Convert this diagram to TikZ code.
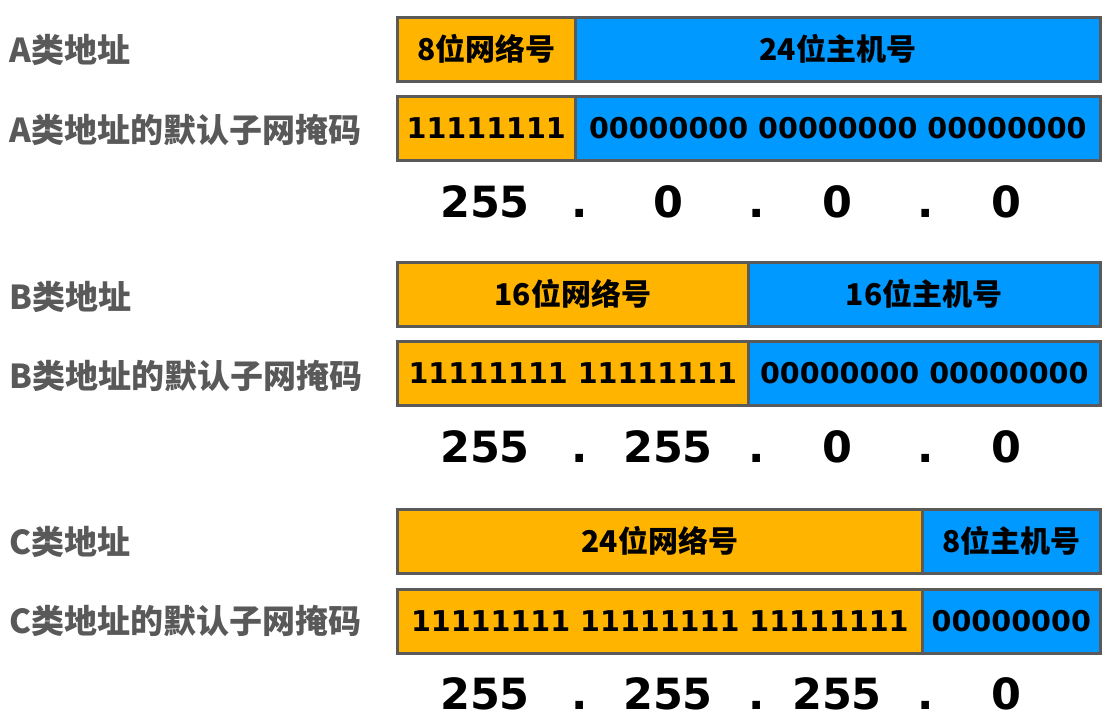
\documentclass[tikz,border=0pt]{standalone}
\usepackage{fontspec}
\setmainfont{DejaVu Sans}
\newfontfamily\cjk{Noto Sans CJK SC}
\usetikzlibrary{positioning}

\definecolor{netorange}{HTML}{FFB400}
\definecolor{hostblue}{HTML}{0099FF}
\definecolor{framegray}{HTML}{5A5A5A}
\definecolor{labelgray}{HTML}{595959}

\tikzset{
  part/.style={draw=framegray, line width=3pt, inner sep=0pt, outer sep=0pt,
    minimum height=64pt, anchor=north west},
  netpart/.style={part, fill=netorange},
  hostpart/.style={part, fill=hostblue},
  fieldtext/.style={font=\cjk\bfseries\fontsize{30}{30}\selectfont},
  bittext/.style={font=\bfseries\fontsize{28.6}{28.6}\selectfont},
  rowlabel/.style={anchor=west, text=labelgray, font=\cjk\bfseries\fontsize{33}{33}\selectfont},
  octet/.style={anchor=base, font=\bfseries\fontsize{43}{43}\selectfont}
}

\begin{document}
\begin{tikzpicture}[x=1pt, y=-1pt]
  \useasboundingbox (0,0) rectangle (1107,718);

  % Class A
  \node[rowlabel] (alabel) at (6,50) {A类地址};
  \node[netpart, fieldtext, minimum width=177.5pt] (anet) at (397.5,17) {8位网络号};
  \node[hostpart, fieldtext, minimum width=525.5pt, right=0pt of anet] (ahost) {24位主机号};

  \node[rowlabel] (amasklabel) at (6,130) {A类地址的默认子网掩码};
  \node[netpart, bittext, minimum width=177.5pt] (amasknet) at (397.5,96) {11111111};
  \node[hostpart, bittext, minimum width=525.5pt, right=0pt of amasknet] (amaskhost) {00000000 00000000 00000000};

  \node[octet] (a1) at (485,217) {255};
  \node[octet] (adot1) at (580,217) {.};
  \node[octet] (a2) at (668,217) {0};
  \node[octet] (adot2) at (757,217) {.};
  \node[octet] (a3) at (837,217) {0};
  \node[octet] (adot3) at (926,217) {.};
  \node[octet] (a4) at (1006,217) {0};

  % Class B
  \node[rowlabel] (blabel) at (6,297) {B类地址};
  \node[netpart, fieldtext, minimum width=350.5pt] (bnet) at (397.5,262) {16位网络号};
  \node[hostpart, fieldtext, minimum width=352.5pt, right=0pt of bnet] (bhost) {16位主机号};

  \node[rowlabel] (bmasklabel) at (6,376) {B类地址的默认子网掩码};
  \node[netpart, bittext, minimum width=350.5pt] (bmasknet) at (397.5,341) {11111111 11111111};
  \node[hostpart, bittext, minimum width=352.5pt, right=0pt of bmasknet] (bmaskhost) {00000000 00000000};

  \node[octet] (b1) at (485,462) {255};
  \node[octet] (bdot1) at (580,462) {.};
  \node[octet] (b2) at (668,462) {255};
  \node[octet] (bdot2) at (757,462) {.};
  \node[octet] (b3) at (837,462) {0};
  \node[octet] (bdot3) at (926,462) {.};
  \node[octet] (b4) at (1006,462) {0};

  % Class C
  \node[rowlabel] (clabel) at (6,542) {C类地址};
  \node[netpart, fieldtext, minimum width=524.5pt] (cnet) at (397.5,509) {24位网络号};
  \node[hostpart, fieldtext, minimum width=178.5pt, right=0pt of cnet] (chost) {8位主机号};

  \node[rowlabel] (cmasklabel) at (6,621) {C类地址的默认子网掩码};
  \node[netpart, bittext, minimum width=524.5pt] (cmasknet) at (397.5,589) {11111111 11111111 11111111};
  \node[hostpart, bittext, minimum width=178.5pt, right=0pt of cmasknet] (cmaskhost) {00000000};

  \node[octet] (c1) at (485,709) {255};
  \node[octet] (cdot1) at (580,709) {.};
  \node[octet] (c2) at (668,709) {255};
  \node[octet] (cdot2) at (757,709) {.};
  \node[octet] (c3) at (837,709) {255};
  \node[octet] (cdot3) at (926,709) {.};
  \node[octet] (c4) at (1006,709) {0};
\end{tikzpicture}
\end{document}
